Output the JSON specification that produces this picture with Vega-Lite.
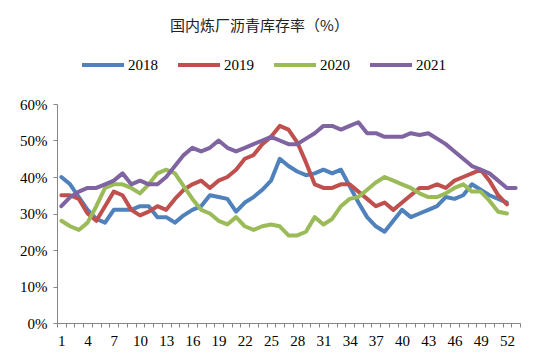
{
  "$schema": "https://vega.github.io/schema/vega-lite/v6.json",
  "width": 463,
  "height": 219,
  "autosize": {"type": "none"},
  "padding": {"left": 57, "top": 104, "right": 30, "bottom": 39},
  "background": "white",
  "title": {"text": "国内炼厂沥青库存率（%）", "font": "Noto Sans CJK SC", "fontSize": 15, "fontWeight": "normal", "color": "#222222", "anchor": "middle", "frame": "group", "dx": -29, "offset": 8},
  "config": {"view": {"stroke": null}},
  "data": {"values": [
    {"week":1,"year":"2018","value":40},{"week":2,"year":"2018","value":38},{"week":3,"year":"2018","value":34.5},{"week":4,"year":"2018","value":31},{"week":5,"year":"2018","value":28.5},{"week":6,"year":"2018","value":27.5},{"week":7,"year":"2018","value":31},{"week":8,"year":"2018","value":31},{"week":9,"year":"2018","value":31},{"week":10,"year":"2018","value":32},{"week":11,"year":"2018","value":32},{"week":12,"year":"2018","value":29},{"week":13,"year":"2018","value":29},{"week":14,"year":"2018","value":27.5},{"week":15,"year":"2018","value":29.5},{"week":16,"year":"2018","value":31},{"week":17,"year":"2018","value":32},{"week":18,"year":"2018","value":35},{"week":19,"year":"2018","value":34.5},{"week":20,"year":"2018","value":34},{"week":21,"year":"2018","value":30.5},{"week":22,"year":"2018","value":33},{"week":23,"year":"2018","value":34.5},{"week":24,"year":"2018","value":36.5},{"week":25,"year":"2018","value":39},{"week":26,"year":"2018","value":45},{"week":27,"year":"2018","value":43},{"week":28,"year":"2018","value":41.5},{"week":29,"year":"2018","value":40.5},{"week":30,"year":"2018","value":41},{"week":31,"year":"2018","value":42},{"week":32,"year":"2018","value":41},{"week":33,"year":"2018","value":42},{"week":34,"year":"2018","value":37.5},{"week":35,"year":"2018","value":33},{"week":36,"year":"2018","value":29},{"week":37,"year":"2018","value":26.5},{"week":38,"year":"2018","value":25},{"week":39,"year":"2018","value":28},{"week":40,"year":"2018","value":31},{"week":41,"year":"2018","value":29},{"week":42,"year":"2018","value":30},{"week":43,"year":"2018","value":31},{"week":44,"year":"2018","value":32},{"week":45,"year":"2018","value":34.5},{"week":46,"year":"2018","value":34},{"week":47,"year":"2018","value":35},{"week":48,"year":"2018","value":38},{"week":49,"year":"2018","value":36.5},{"week":50,"year":"2018","value":35},{"week":51,"year":"2018","value":34},{"week":52,"year":"2018","value":33},
    {"week":1,"year":"2019","value":35},{"week":2,"year":"2019","value":35},{"week":3,"year":"2019","value":34},{"week":4,"year":"2019","value":30},{"week":5,"year":"2019","value":28},{"week":6,"year":"2019","value":32},{"week":7,"year":"2019","value":36},{"week":8,"year":"2019","value":35},{"week":9,"year":"2019","value":31},{"week":10,"year":"2019","value":29.5},{"week":11,"year":"2019","value":30.5},{"week":12,"year":"2019","value":32},{"week":13,"year":"2019","value":31},{"week":14,"year":"2019","value":34},{"week":15,"year":"2019","value":36.5},{"week":16,"year":"2019","value":38},{"week":17,"year":"2019","value":39},{"week":18,"year":"2019","value":37},{"week":19,"year":"2019","value":39},{"week":20,"year":"2019","value":40},{"week":21,"year":"2019","value":42},{"week":22,"year":"2019","value":45},{"week":23,"year":"2019","value":46},{"week":24,"year":"2019","value":49},{"week":25,"year":"2019","value":51},{"week":26,"year":"2019","value":54},{"week":27,"year":"2019","value":53},{"week":28,"year":"2019","value":49.5},{"week":29,"year":"2019","value":44},{"week":30,"year":"2019","value":38},{"week":31,"year":"2019","value":37},{"week":32,"year":"2019","value":37},{"week":33,"year":"2019","value":38},{"week":34,"year":"2019","value":38},{"week":35,"year":"2019","value":36},{"week":36,"year":"2019","value":34},{"week":37,"year":"2019","value":32},{"week":38,"year":"2019","value":33},{"week":39,"year":"2019","value":31},{"week":40,"year":"2019","value":33},{"week":41,"year":"2019","value":35},{"week":42,"year":"2019","value":37},{"week":43,"year":"2019","value":37},{"week":44,"year":"2019","value":38},{"week":45,"year":"2019","value":37},{"week":46,"year":"2019","value":39},{"week":47,"year":"2019","value":40},{"week":48,"year":"2019","value":41},{"week":49,"year":"2019","value":42},{"week":50,"year":"2019","value":39},{"week":51,"year":"2019","value":35},{"week":52,"year":"2019","value":32.5},
    {"week":1,"year":"2020","value":28},{"week":2,"year":"2020","value":26.5},{"week":3,"year":"2020","value":25.5},{"week":4,"year":"2020","value":27.5},{"week":5,"year":"2020","value":32},{"week":6,"year":"2020","value":37},{"week":7,"year":"2020","value":38},{"week":8,"year":"2020","value":38},{"week":9,"year":"2020","value":37},{"week":10,"year":"2020","value":35.5},{"week":11,"year":"2020","value":38},{"week":12,"year":"2020","value":41},{"week":13,"year":"2020","value":42},{"week":14,"year":"2020","value":41},{"week":15,"year":"2020","value":37.5},{"week":16,"year":"2020","value":34},{"week":17,"year":"2020","value":31},{"week":18,"year":"2020","value":30},{"week":19,"year":"2020","value":28},{"week":20,"year":"2020","value":27},{"week":21,"year":"2020","value":29},{"week":22,"year":"2020","value":26.5},{"week":23,"year":"2020","value":25.5},{"week":24,"year":"2020","value":26.5},{"week":25,"year":"2020","value":27},{"week":26,"year":"2020","value":26.5},{"week":27,"year":"2020","value":24},{"week":28,"year":"2020","value":24},{"week":29,"year":"2020","value":25},{"week":30,"year":"2020","value":29},{"week":31,"year":"2020","value":27},{"week":32,"year":"2020","value":28.5},{"week":33,"year":"2020","value":32},{"week":34,"year":"2020","value":34},{"week":35,"year":"2020","value":34.5},{"week":36,"year":"2020","value":36.5},{"week":37,"year":"2020","value":38.5},{"week":38,"year":"2020","value":40},{"week":39,"year":"2020","value":39},{"week":40,"year":"2020","value":38},{"week":41,"year":"2020","value":37},{"week":42,"year":"2020","value":35.5},{"week":43,"year":"2020","value":34.5},{"week":44,"year":"2020","value":34.5},{"week":45,"year":"2020","value":35.5},{"week":46,"year":"2020","value":37},{"week":47,"year":"2020","value":38},{"week":48,"year":"2020","value":36},{"week":49,"year":"2020","value":36},{"week":50,"year":"2020","value":33.5},{"week":51,"year":"2020","value":30.5},{"week":52,"year":"2020","value":30},
    {"week":1,"year":"2021","value":32},{"week":2,"year":"2021","value":34.5},{"week":3,"year":"2021","value":36},{"week":4,"year":"2021","value":37},{"week":5,"year":"2021","value":37},{"week":6,"year":"2021","value":38},{"week":7,"year":"2021","value":39},{"week":8,"year":"2021","value":41},{"week":9,"year":"2021","value":38},{"week":10,"year":"2021","value":39},{"week":11,"year":"2021","value":38},{"week":12,"year":"2021","value":38},{"week":13,"year":"2021","value":40},{"week":14,"year":"2021","value":43},{"week":15,"year":"2021","value":46},{"week":16,"year":"2021","value":48},{"week":17,"year":"2021","value":47},{"week":18,"year":"2021","value":48},{"week":19,"year":"2021","value":50},{"week":20,"year":"2021","value":48},{"week":21,"year":"2021","value":47},{"week":22,"year":"2021","value":48},{"week":23,"year":"2021","value":49},{"week":24,"year":"2021","value":50},{"week":25,"year":"2021","value":51},{"week":26,"year":"2021","value":50},{"week":27,"year":"2021","value":49},{"week":28,"year":"2021","value":49},{"week":29,"year":"2021","value":50.5},{"week":30,"year":"2021","value":52},{"week":31,"year":"2021","value":54},{"week":32,"year":"2021","value":54},{"week":33,"year":"2021","value":53},{"week":34,"year":"2021","value":54},{"week":35,"year":"2021","value":55},{"week":36,"year":"2021","value":52},{"week":37,"year":"2021","value":52},{"week":38,"year":"2021","value":51},{"week":39,"year":"2021","value":51},{"week":40,"year":"2021","value":51},{"week":41,"year":"2021","value":52},{"week":42,"year":"2021","value":51.5},{"week":43,"year":"2021","value":52},{"week":44,"year":"2021","value":50.5},{"week":45,"year":"2021","value":49},{"week":46,"year":"2021","value":47},{"week":47,"year":"2021","value":45},{"week":48,"year":"2021","value":43},{"week":49,"year":"2021","value":42},{"week":50,"year":"2021","value":41},{"week":51,"year":"2021","value":39},{"week":52,"year":"2021","value":37},{"week":53,"year":"2021","value":37}
  ]},
  "mark": {"type": "line", "strokeWidth": 4, "strokeJoin": "round", "strokeCap": "round"},
  "encoding": {
    "x": {
      "field": "week", "type": "ordinal",
      "scale": {"type": "band", "paddingInner": 0, "paddingOuter": 0},
      "bandPosition": 0.5,
      "axis": {"title": null, "tickBand": "extent", "labelAngle": 0, "labelOverlap": false,
        "labelExpr": "(datum.value - 1) % 3 == 0 ? datum.label : ''",
        "domainColor": "#868686", "tickColor": "#868686", "tickSize": 4, "domainWidth": 1,
        "labelFont": "Liberation Serif", "labelFontSize": 15, "labelColor": "#000000", "labelPadding": 6, "grid": false}
    },
    "y": {
      "field": "value", "type": "quantitative",
      "scale": {"domain": [0, 60]},
      "axis": {"title": null, "values": [0, 10, 20, 30, 40, 50, 60], "labelExpr": "datum.value + '%'",
        "domainColor": "#868686", "tickColor": "#868686", "tickSize": 4, "grid": false,
        "labelFont": "Liberation Serif", "labelFontSize": 15, "labelColor": "#000000", "labelPadding": 6}
    },
    "color": {
      "field": "year", "type": "nominal",
      "scale": {"domain": ["2018", "2019", "2020", "2021"], "range": ["#4F81BD", "#C0504D", "#9BBB59", "#8064A2"]},
      "legend": {"orient": "none", "legendX": 23, "legendY": -62, "direction": "horizontal", "title": null,
        "symbolType": "stroke", "symbolStrokeWidth": 4, "symbolSize": 1764,
        "labelFont": "Liberation Serif", "labelFontSize": 15, "labelColor": "#000000", "labelOffset": 2, "columnPadding": 12}
    }
  }
}
